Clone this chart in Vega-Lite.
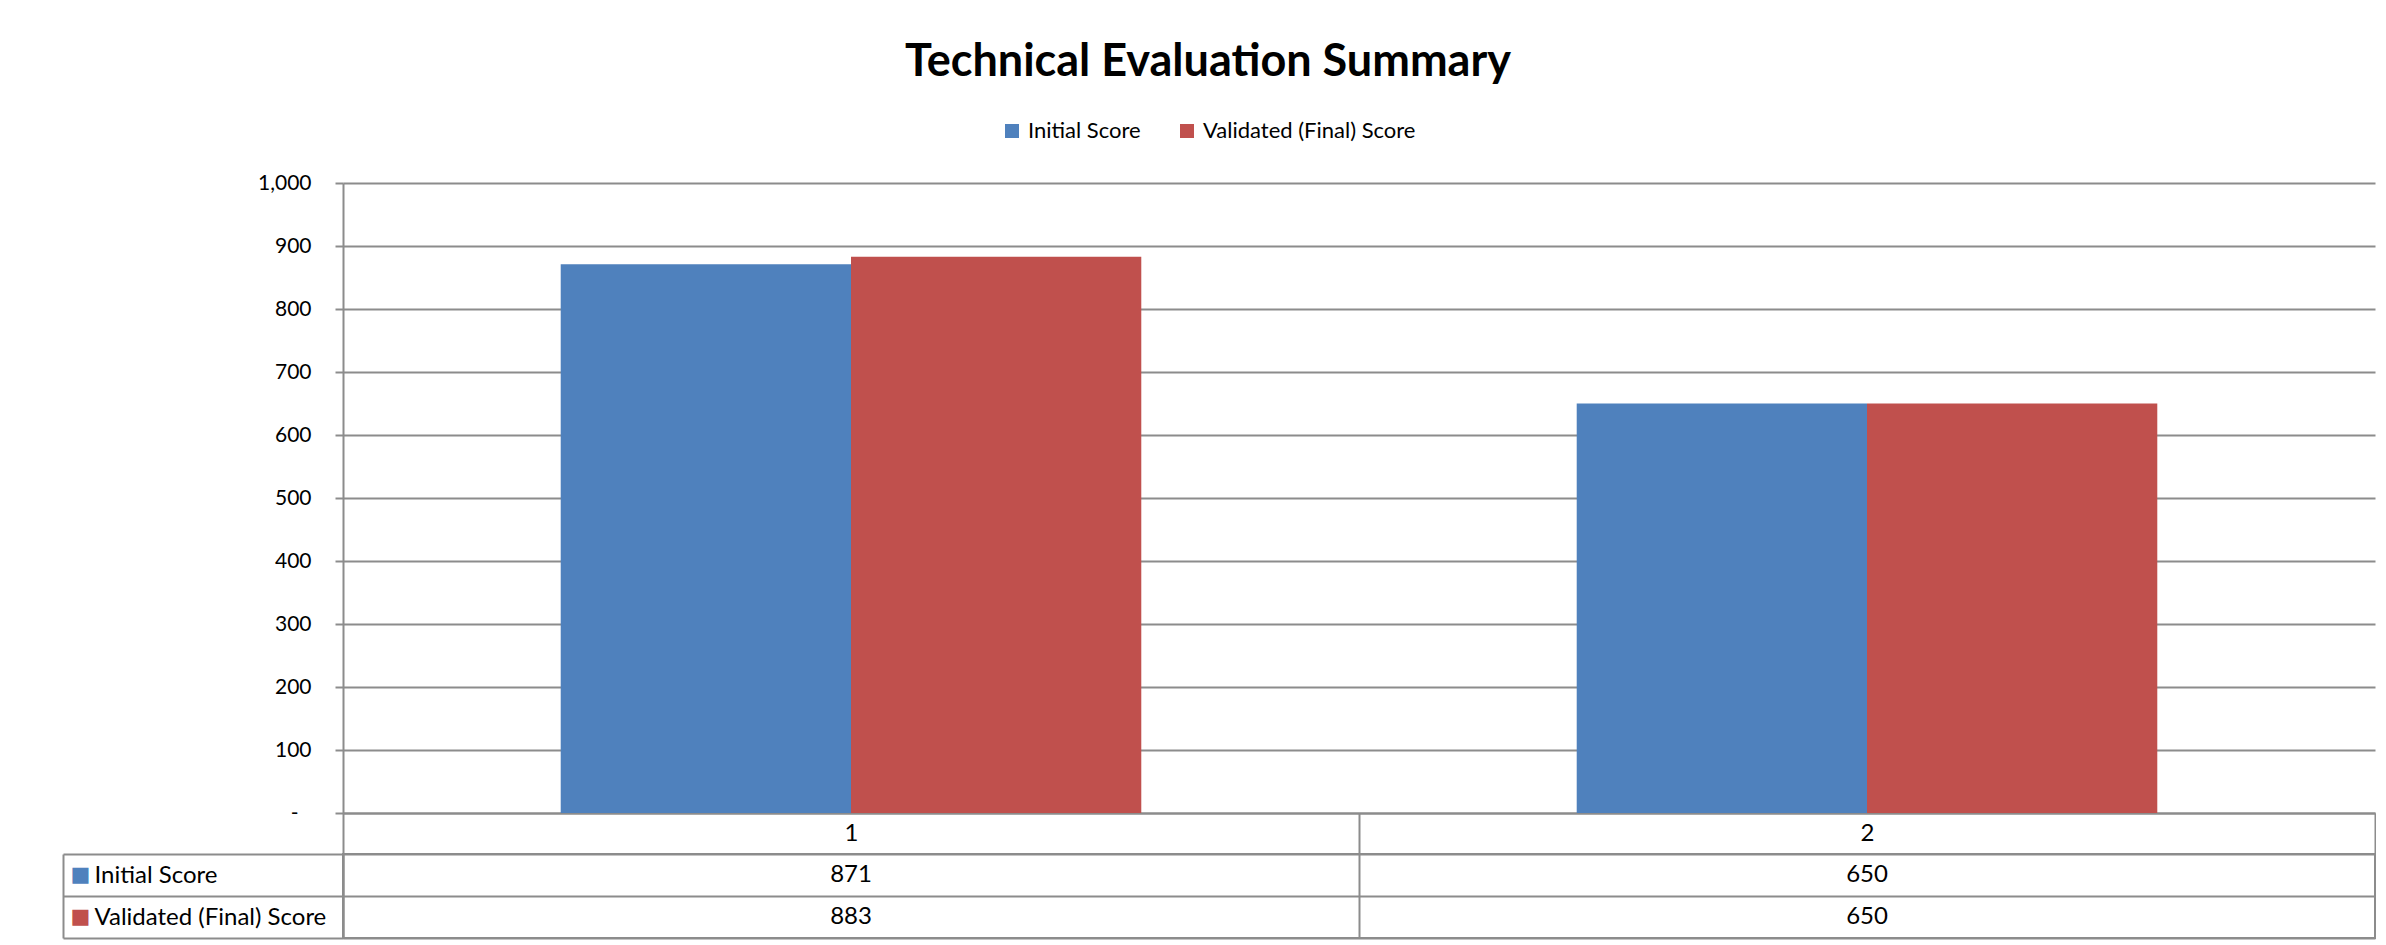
{
  "$schema": "https://vega.github.io/schema/vega-lite/v6.json",
  "background": "white",
  "padding": {"left": 61, "top": 40, "right": 0, "bottom": 0},
  "bounds": "flush",
  "datasets": {
    "scores": [
      {"category": "1", "series": "Initial Score", "score": 871},
      {"category": "1", "series": "Validated (Final) Score", "score": 883},
      {"category": "2", "series": "Initial Score", "score": 650},
      {"category": "2", "series": "Validated (Final) Score", "score": 650}
    ]
  },
  "spacing": 41,
  "vconcat": [
    {
      "width": 2032,
      "height": 630,
      "view": {"stroke": null},
      "data": {"name": "scores"},
      "mark": {"type": "bar"},
      "encoding": {
        "x": {
          "field": "category",
          "type": "nominal",
          "scale": {"paddingInner": 0, "paddingOuter": 0},
          "axis": {
            "orient": "bottom",
            "title": null,
            "tickBand": "extent",
            "grid": false,
            "domain": true,
            "domainColor": "#8C8C8C",
            "domainWidth": 2,
            "ticks": true,
            "tickColor": "#8C8C8C",
            "tickWidth": 2,
            "tickSize": 41,
            "labels": true,
            "labelAngle": 0,
            "labelAlign": "center",
            "labelBaseline": "middle",
            "labelPadding": -20.5,
            "labelFont": "Lato",
            "labelFontSize": 24,
            "labelColor": "black"
          }
        },
        "xOffset": {
          "field": "series",
          "type": "nominal",
          "scale": {"paddingInner": 0, "paddingOuter": 0.75}
        },
        "y": {
          "field": "score",
          "type": "quantitative",
          "scale": {"domain": [0, 1000], "nice": false},
          "axis": {
            "title": null,
            "orient": "left",
            "values": [0, 100, 200, 300, 400, 500, 600, 700, 800, 900, 1000],
            "labelExpr": "datum.value == 0 ? '-' : format(datum.value, ',')",
            "grid": true,
            "gridColor": "#8C8C8C",
            "gridWidth": 2,
            "domain": true,
            "domainColor": "#8C8C8C",
            "domainWidth": 2,
            "ticks": true,
            "tickColor": "#8C8C8C",
            "tickWidth": 2,
            "tickSize": 8,
            "labelPadding": {"condition": {"test": "datum.value == 0", "value": 37}, "value": 24},
            "labelFont": "Lato",
            "labelFontSize": 21,
            "labelColor": "black"
          }
        },
        "color": {
          "field": "series",
          "type": "nominal",
          "scale": {"domain": ["Initial Score", "Validated (Final) Score"], "range": ["#4F81BD", "#C0504D"]},
          "legend": {
            "title": "Technical Evaluation Summary",
            "titleFont": "Lato",
            "titleFontSize": 45,
            "titleFontWeight": "bold",
            "titleColor": "black",
            "titleAnchor": "middle",
            "titleOrient": "top",
            "titleLimit": 0,
            "titlePadding": 35,
            "orient": "none",
            "legendX": 562,
            "legendY": -143,
            "padding": 0,
            "direction": "horizontal",
            "symbolType": "square",
            "symbolSize": 196,
            "symbolStrokeWidth": 0,
            "symbolOpacity": 1,
            "labelFont": "Lato",
            "labelFontSize": 22,
            "labelColor": "black",
            "labelLimit": 0,
            "labelOffset": 5,
            "columnPadding": 35
          }
        }
      }
    },
    {
      "width": 2032,
      "height": 84,
      "view": {"stroke": "#8C8C8C", "strokeWidth": 2},
      "data": {"name": "scores"},
      "resolve": {"axis": {"y": "independent"}},
      "layer": [
        {
          "mark": {"type": "text", "font": "Lato", "fontSize": 24, "color": "black", "baseline": "middle", "align": "center"},
          "encoding": {
            "x": {
              "field": "category",
              "type": "nominal",
              "scale": {"paddingInner": 0, "paddingOuter": 0},
              "axis": {"title": null, "labels": false, "ticks": false, "domain": false, "grid": true, "tickBand": "extent", "gridColor": "#8C8C8C", "gridWidth": 2}
            },
            "y": {
              "field": "series",
              "type": "nominal",
              "scale": {"domain": ["Initial Score", "Validated (Final) Score"], "paddingInner": 0, "paddingOuter": 0},
              "axis": {
                "title": null,
                "orient": "left",
                "tickBand": "extent",
                "grid": true,
                "gridColor": "#8C8C8C",
                "gridWidth": 2,
                "domain": true,
                "domainColor": "#8C8C8C",
                "domainWidth": 2,
                "ticks": true,
                "tickSize": 280,
                "tickWidth": 2,
                "tickColor": "#8C8C8C",
                "labelAlign": "left",
                "labelBaseline": "middle",
                "labelPadding": -31,
                "labelLimit": 0,
                "labelFont": "Lato",
                "labelFontSize": 24,
                "labelColor": "black"
              }
            },
            "text": {"field": "score", "type": "quantitative", "format": "d"}
          }
        },
        {
          "mark": {"type": "text", "opacity": 0, "text": ""},
          "encoding": {
            "x": {"field": "category", "type": "nominal"},
            "y": {
              "field": "series",
              "type": "nominal",
              "axis": {
                "title": null,
                "orient": "left",
                "offset": 280,
                "grid": false,
                "ticks": false,
                "domain": true,
                "domainColor": "#8C8C8C",
                "domainWidth": 2,
                "labelAlign": "left",
                "labelBaseline": "middle",
                "labelPadding": -7,
                "labelExpr": "'\u25A0'",
                "labelFont": "DejaVu Sans",
                "labelFontSize": 21,
                "labelColor": {"condition": {"test": "datum.value === 'Initial Score'", "value": "#4F81BD"}, "value": "#C0504D"}
              }
            }
          }
        }
      ]
    }
  ],
  "config": {
    "font": "Lato"
  }
}
